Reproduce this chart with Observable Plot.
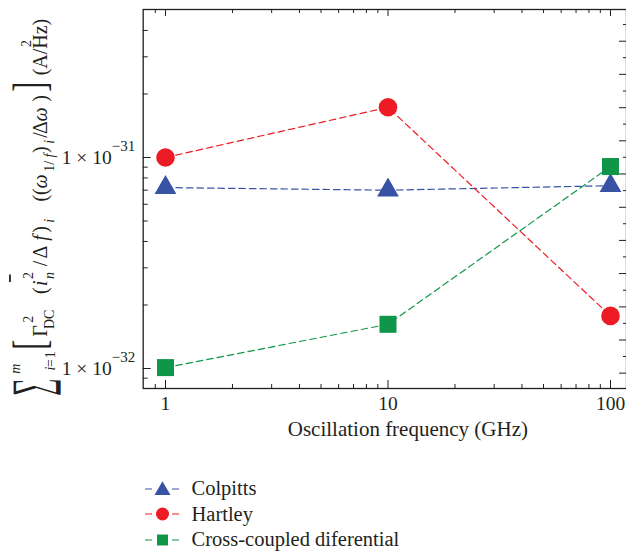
<!DOCTYPE html>
<html>
<head>
<meta charset="utf-8">
<script src="https://cdn.jsdelivr.net/npm/d3@7"></script>
<script src="https://cdn.jsdelivr.net/npm/@observablehq/plot@0.6"></script>
<style>
  html, body { margin: 0; padding: 0; background: #fff; overflow: hidden; }
  #chart { width: 626px; }
  #chart svg { display: block; }
  .legend { margin-left: 145px; padding-top: 21px; font-family: "Liberation Serif", serif; font-size: 20.5px; color: #231f20; }
  .legend .row { display: flex; align-items: center; height: 25.5px; }
  .legend .row svg { margin-right: 10.5px; }
</style>
</head>
<body>
<div id="chart"></div>
<script>
// Oscillation frequency (GHz)
const freq = [1, 10, 100];

// Noise figure of merit per topology (A^2/Hz)
const seriesNames = ["Colpitts", "Hartley", "Cross-coupled diferential"];
const colpitts = [7.2e-32, 7.0e-32, 7.35e-32];
const hartley = [1.0e-31, 1.73e-31, 1.775e-32];
const crossCoupled = [1.01e-32, 1.62e-32, 9.06e-32];

const seriesColors = ["#3953a4", "#ed1c24", "#109649"];
const seriesSymbols = ["triangle", "circle", "square"];
const markerRadius = [8.1, 9.3, 9.6];

// Axis ticks
const xMajor = [1, 10, 100];
const xMinor = [0.9, 2, 3, 4, 5, 6, 7, 8, 9, 20, 30, 40, 50, 60, 70, 80, 90];
const yMajor = [1e-32, 1e-31];
const yMinor = [9e-33, 2e-32, 3e-32, 4e-32, 5e-32, 6e-32, 7e-32, 8e-32, 9e-32, 2e-31, 3e-31, 4e-31];
// secondary (unlabelled) ticks along the right edge, as log10 exponents
const rightLongExp = [-30.449, -30.606, -30.764, -30.921, -31.078, -31.236, -31.393, -31.550, -31.708, -31.865, -32.022];
const rightShortExp = [-30.370, -30.527, -30.685, -30.842, -30.999, -31.157, -31.314, -31.471, -31.629, -31.786, -31.943];

const xTitle = "Oscillation frequency (GHz)";

const ink = "#231f20";
const font = "'Liberation Serif', 'Times New Roman', serif";

const seriesValues = [colpitts, hartley, crossCoupled];
const series = seriesNames.map((name, k) => ({
  name,
  color: seriesColors[k],
  symbol: seriesSymbols[k],
  r: markerRadius[k],
  rows: freq.map((f, i) => ({freq: f, value: seriesValues[k][i]}))
}));

const tickOnly = {fill: "none", label: null, stroke: ink, strokeWidth: 1};

const plot = Plot.plot({
  width: 626,
  height: 455,
  marginLeft: 142.7,
  marginRight: 0,
  marginTop: 9,
  marginBottom: 67,
  style: {fontFamily: font, fontSize: "19px", color: ink, background: "#fff", overflow: "visible"},
  x: {type: "log", domain: [0.794, 118]},
  y: {type: "log", domain: [8.04e-33, 5.027e-31]},
  marks: [
    Plot.axisX(xMajor, {anchor: "bottom", tickSize: 0, tickPadding: 8, tickFormat: d => String(d), label: null, fill: ink, fontSize: 19.5}),
    Plot.axisX(xMajor, {anchor: "bottom", tickSize: -8, ...tickOnly}),
    Plot.axisX(xMinor, {anchor: "bottom", tickSize: -4, ...tickOnly}),
    Plot.axisX(xMajor, {anchor: "top", tickSize: -6, ...tickOnly}),
    Plot.axisX(xMinor, {anchor: "top", tickSize: -3, ...tickOnly}),
    Plot.axisY(yMajor, {anchor: "left", tickSize: 0, tickPadding: 8, label: null, fill: ink, fontSize: 19.5,
      tickFormat: d => `1 × 10^${Math.round(Math.log10(d))}`}),
    Plot.axisY(yMajor, {anchor: "left", tickSize: -8, ...tickOnly}),
    Plot.axisY(yMinor, {anchor: "left", tickSize: -5, ...tickOnly}),
    Plot.axisY(rightLongExp.map(e => 10 ** e), {anchor: "right", tickSize: -8, ...tickOnly}),
    Plot.axisY(rightShortExp.map(e => 10 ** e), {anchor: "right", tickSize: -4, ...tickOnly}),
    Plot.frame({stroke: ink, strokeWidth: 1.3}),
    ...series.map(s => Plot.line(s.rows, {x: "freq", y: "value", stroke: s.color, strokeWidth: 1.2, strokeDasharray: "6.5,4"})),
    ...series.map(s => Plot.dot(s.rows, {x: "freq", y: "value", symbol: s.symbol, fill: s.color, r: s.r, stroke: "none"})),
    Plot.text([xTitle], {frameAnchor: "bottom", dx: 23, dy: 47, fontSize: 21, fill: ink})
  ]
});

document.getElementById("chart").append(plot);

// superscript exponents on the y tick labels
d3.select(plot).selectAll('g[aria-label="y-axis tick label"] text').each(function () {
  const [base, exp] = this.textContent.split("^");
  const t = d3.select(this).text(null);
  t.append("tspan").text(base);
  t.append("tspan").attr("dy", -12.5).attr("font-size", 15).text(exp.replace("-", "−"));
});

// y-axis title, typeset piece by piece along a rotated baseline
function drawYLabel(svgNode) {
  const svg = d3.select(svgNode);
  const outer = svg.append("g").attr("font-family", font).attr("fill", ink);
  const g = outer.append("g");
  let cx = 0;
  const put = (str, {size = 20, italic = false, sh = 0, sx = 1, at = cx} = {}) => {
    const t = g.append("text").attr("font-size", size)
      .attr("transform", `translate(${at},${sh}) scale(${sx},1)`).text(str);
    if (italic) t.attr("font-style", "italic");
    return t.node().getComputedTextLength() * sx;
  };
  const run = (str, opts) => { cx += put(str, opts); };
  const gap = w => { cx += w; };
  const stack = (sup, sub) => {
    let wa = 0, wb = 0;
    for (const [s, o] of sup) wa += put(s, {...o, at: cx + wa}) + (o.after || 0);
    for (const [s, o] of sub) wb += put(s, {...o, at: cx + wb}) + (o.after || 0);
    cx += Math.max(wa, wb);
  };
  const sup = {size: 14, sh: -14};
  const sub = {size: 14, sh: 7};

  run("∑", {size: 54, sh: 2, sx: 0.45});
  gap(1);
  stack([["m", {size: 14, italic: true, sh: -27}]],
        [["i", {size: 14, italic: true, sh: 8, after: 1.5}], ["=", {size: 14, sh: 8, after: 0.5}], ["1", {size: 14, sh: 8}]]);
  gap(3);
  run("[", {size: 46, sh: -2, sx: 0.65});
  gap(4);
  run("Γ");
  stack([["2", sup]], [["DC", sub]]);
  gap(9);
  run("(");
  gap(1);
  const iStart = cx;
  run("i", {italic: true});
  g.append("line").attr("x1", iStart + 1).attr("x2", cx + 3).attr("y1", -37).attr("y2", -37)
    .attr("stroke", ink).attr("stroke-width", 1.8);
  gap(2);
  stack([["2", sup]], [["n", {...sub, italic: true}]]);
  gap(5);
  run("/");
  gap(6);
  run("Δ");
  gap(1);
  run("f", {italic: true});
  gap(3);
  run(")");
  gap(2);
  run("i", {...sub, italic: true});
  gap(22);
  run("((");
  run("ω", {italic: true});
  gap(1);
  run("1/", sub);
  run("f", {...sub, italic: true});
  gap(2);
  run(")");
  gap(1);
  run("i", {...sub, italic: true});
  gap(3);
  run("/");
  gap(2);
  run("Δ");
  run("ω", {italic: true});
  gap(2);
  run(")");
  gap(5);
  run("]", {size: 46, sh: -2, sx: 0.65});
  gap(12);
  run("(A");
  run("2", {size: 14, sh: -16});
  run("/Hz)");

  const s = 386 / cx;
  outer.attr("transform", `translate(47,387) rotate(-90) scale(${s})`);
  return cx;
}
drawYLabel(plot);

// legend
const legend = d3.select("#chart").append("div").attr("class", "legend");
series.forEach(s => {
  const row = legend.append("div").attr("class", "row");
  const sw = row.append("svg").attr("width", 36).attr("height", 20);
  sw.append("line").attr("x1", 0).attr("x2", 36).attr("y1", 10).attr("y2", 10)
    .attr("stroke", s.color).attr("stroke-width", 1.2).attr("stroke-dasharray", "7,20");
  const shape = {triangle: d3.symbolTriangle, circle: d3.symbolCircle, square: d3.symbolSquare}[s.symbol];
  const size = {triangle: 110, circle: 133, square: 121}[s.symbol];
  sw.append("path").attr("d", d3.symbol(shape, size)()).attr("fill", s.color)
    .attr("transform", `translate(17.5,${s.symbol === "triangle" ? 11.5 : 10})`);
  row.append("span").text(s.name);
});
</script>
</body>
</html>
